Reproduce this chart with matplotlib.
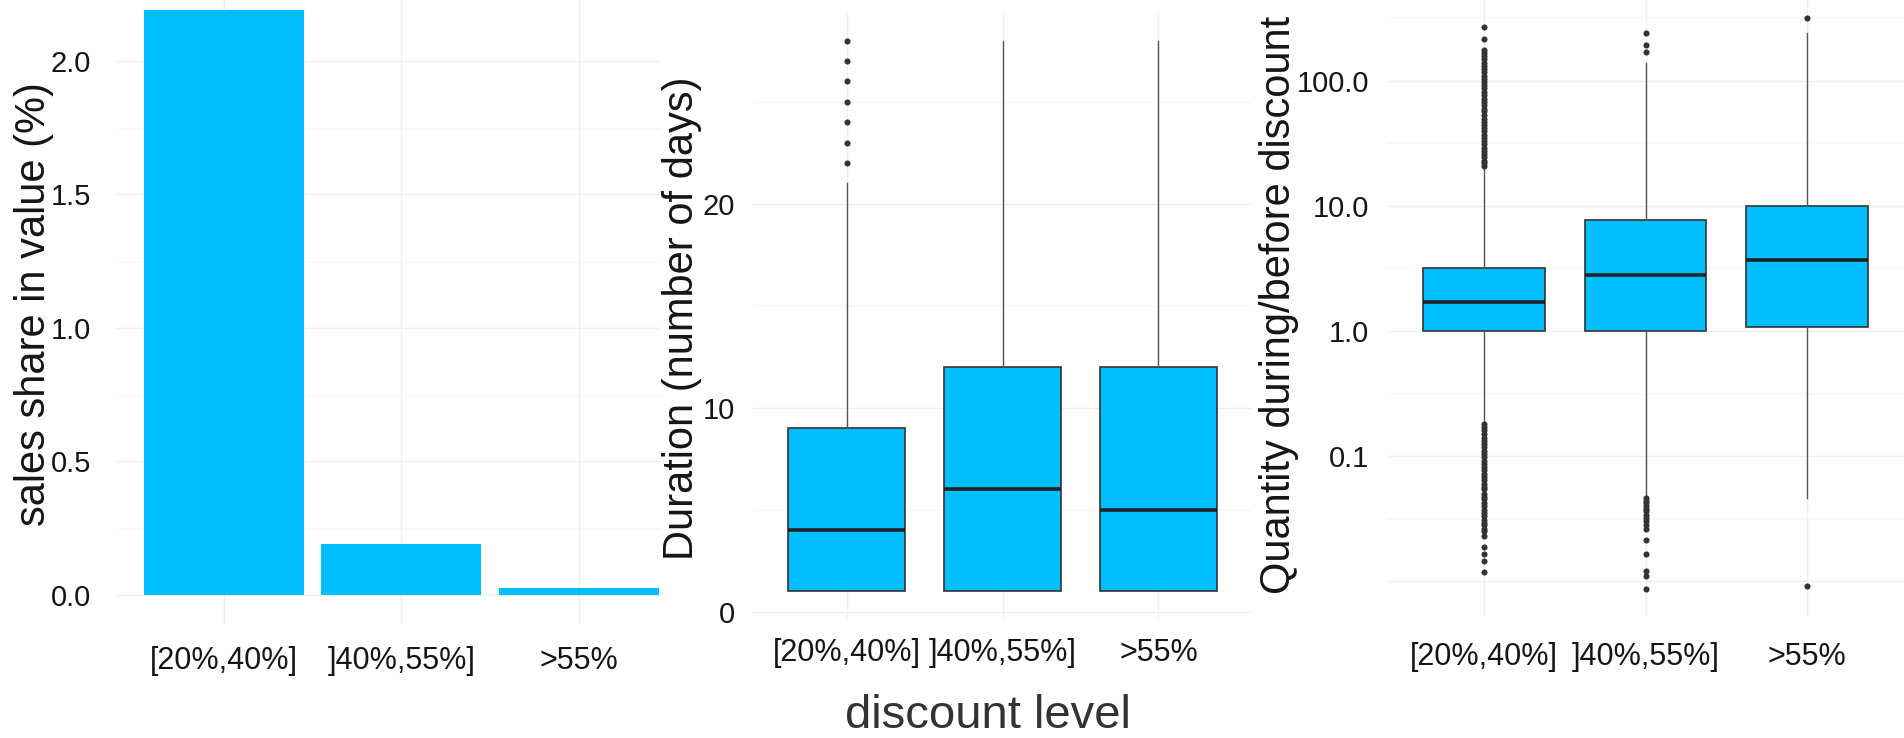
import matplotlib
matplotlib.use("Agg")
import matplotlib.pyplot as plt
from matplotlib.ticker import FixedLocator, NullFormatter

plt.rcParams['font.family'] = ['Liberation Sans', 'DejaVu Sans']

# discount classes shared by the three panels
categories = ['[20%,40%]', ']40%,55%]', '>55%']

# left panel: sales share in value (%)
sales_share = [2.19, 0.19, 0.025]

# middle panel: promotion duration in days (box statistics)
dur_q1 = [1, 1, 1]
dur_med = [4, 6, 5]
dur_q3 = [9, 12, 12]
dur_low = [1, 1, 1]
dur_high = [21, 28, 28]
dur_out = [
    [22, 23, 24, 25, 26, 27, 28],
    [],
    [],
]

# right panel: quantity during / before discount (log scale)
qty_q1 = [1.0, 1.0, 1.07]
qty_med = [1.70, 2.79, 3.67]
qty_q3 = [3.17, 7.65, 10.0]
qty_low = [0.19, 0.049, 0.046]
qty_high = [20.0, 138, 240]
qty_out = [
    [268, 215, 178, 168, 158, 149, 140, 132, 124, 117, 110, 104, 98, 92,
     87, 82, 77, 72, 68, 64, 60, 57, 53, 50, 47, 44.5, 42, 39.5, 37, 35,
     33, 31, 29, 27.5, 26, 24.5, 23, 22, 21,
     0.18, 0.17, 0.16, 0.15, 0.14, 0.132, 0.124, 0.117, 0.11, 0.104,
     0.098, 0.092, 0.087, 0.082, 0.077, 0.072, 0.068, 0.064, 0.06, 0.057,
     0.054, 0.05, 0.047, 0.045, 0.042, 0.04, 0.037, 0.035, 0.033, 0.031,
     0.029, 0.028, 0.026, 0.025, 0.023, 0.0186, 0.0163, 0.0144, 0.0117],
    [240, 195, 170,
     0.046, 0.044, 0.042, 0.04, 0.038, 0.036, 0.034, 0.032, 0.03, 0.028,
     0.026, 0.0213, 0.0165, 0.012, 0.011, 0.0086],
    [316, 0.0092],
]

W, H = 1904, 738
FILL = '#00BFFF'
TXT = '#151515'
GRID = '#EFEFEF'
GRID_MINOR = '#F6F6F6'


def px_box(x0, x1, ytop, ybot):
    return [x0 / W, (H - ybot) / H, (x1 - x0) / W, (ybot - ytop) / H]


def style(ax, ypad, xpad):
    for s in ax.spines.values():
        s.set_visible(False)
    ax.set_axisbelow(True)
    ax.tick_params(which='both', length=0, colors=TXT)
    ax.tick_params(axis='y', pad=ypad, labelsize=21)
    ax.tick_params(axis='x', pad=xpad, labelsize=22)
    ax.grid(which='major', color=GRID, lw=1.0)
    ax.grid(which='minor', axis='y', color=GRID_MINOR, lw=0.8)
    ax.set_xticks(range(len(categories)))
    ax.set_xticklabels(categories)
    ax.set_facecolor('white')


def box_stats(q1, med, q3, lo, hi, out):
    return [dict(q1=a, med=b, q3=c, whislo=d, whishi=e, fliers=f)
            for a, b, c, d, e, f in zip(q1, med, q3, lo, hi, out)]


def draw_boxes(ax, stats):
    ax.bxp(stats, positions=range(len(stats)), widths=0.75,
           patch_artist=True, showcaps=False,
           boxprops=dict(facecolor=FILL, edgecolor='#333333', lw=1.2),
           medianprops=dict(color='#222222', lw=2.6),
           whiskerprops=dict(color='#555555', lw=1.0),
           flierprops=dict(marker='o', markersize=4.4, markerfacecolor='#333333',
                           markeredgecolor='none'))


fig = plt.figure(figsize=(W / 100, H / 100), dpi=100)

# bar chart
ax1 = fig.add_axes(px_box(117, 661, -19, 624))
ax1.bar(range(len(categories)), sales_share, width=0.9, color=FILL)
ax1.set_xlim(-0.6, 2.46)
ax1.set_ylim(-0.11, 2.30)
ax1.set_yticks([0.0, 0.5, 1.0, 1.5, 2.0])
ax1.set_yticklabels(['0.0', '0.5', '1.0', '1.5', '2.0'])
ax1.yaxis.set_minor_locator(FixedLocator([0.25, 0.75, 1.25, 1.75, 2.25]))
style(ax1, 18.5, 16)

# duration boxplot
ax2 = fig.add_axes(px_box(753, 1252, 13, 619))
draw_boxes(ax2, box_stats(dur_q1, dur_med, dur_q3, dur_low, dur_high, dur_out))
ax2.set_xlim(-0.6, 2.6)
ax2.set_ylim(-0.35, 29.35)
ax2.set_yticks([0, 10, 20])
ax2.set_yticklabels(['0', '10', '20'])
ax2.yaxis.set_minor_locator(FixedLocator([5, 15, 25]))
style(ax2, 13, 14)

# quantity ratio boxplot, log scale
ax3 = fig.add_axes(px_box(1387, 1904, -6.5, 615.5))
ax3.set_yscale('log')
draw_boxes(ax3, box_stats(qty_q1, qty_med, qty_q3, qty_low, qty_high, qty_out))
ax3.set_xlim(-0.6, 2.6)
ax3.set_ylim(0.0053, 500)
ax3.set_yticks([0.01, 0.1, 1, 10, 100])
ax3.set_yticklabels(['', '0.1', '1.0', '10.0', '100.0'])
ax3.yaxis.set_minor_locator(FixedLocator([0.0316, 0.316, 3.16, 31.6, 316]))
ax3.yaxis.set_minor_formatter(NullFormatter())
style(ax3, 13, 19)

# axis titles
fig.text(34 / W, 1 - 304 / H, 'sales share in value (%)', rotation=90,
         ha='center', va='center', fontsize=30, color=TXT)
fig.text(682 / W, 1 - 318 / H, 'Duration (number of days)', rotation=90,
         ha='center', va='center', fontsize=30, color=TXT)
fig.text(1279 / W, 1 - 305 / H, 'Quantity during/before discount', rotation=90,
         ha='center', va='center', fontsize=30, color=TXT)
fig.text(988 / W, 1 - 716 / H, 'discount level', ha='center', va='center',
         fontsize=34, color='#333333')

fig.savefig('out.png', dpi=100, facecolor='white')
